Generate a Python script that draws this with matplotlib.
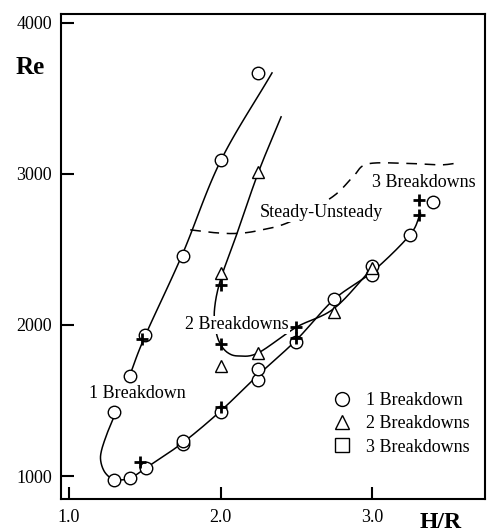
import numpy as np
import matplotlib
matplotlib.use("Agg")
import matplotlib.pyplot as plt
from matplotlib.lines import Line2D

plt.rcParams['font.family'] = ['Liberation Serif', 'DejaVu Serif']

# ---- measured points ----
one_bd_x = [1.30, 1.30, 1.40, 1.51, 1.75, 1.75, 2.00, 2.25, 2.25, 2.50, 2.75, 3.00, 3.00, 3.25, 3.40,
            1.40, 1.50, 1.75, 2.00, 2.25]
one_bd_y = [1425, 975, 985, 1055, 1210, 1232, 1426, 1635, 1706, 1889, 2170, 2331, 2390, 2596, 2816,
            1664, 1934, 2459, 3092, 3666]

two_bd_x = [2.25, 2.00, 2.00, 2.25, 2.75, 3.00]
two_bd_y = [3011, 2342, 1728, 1816, 2088, 2375]

three_bd_x = []
three_bd_y = []

cross_x = [1.47, 1.48, 2.00, 2.00, 2.00, 2.50, 2.50, 3.31, 3.31]
cross_y = [1095, 1905, 1459, 2265, 1872, 1988, 1913, 2827, 2728]

# ---- hand-fitted curves (guide points) ----
upper_one_x = [1.40, 1.50, 1.75, 2.00, 2.34]
upper_one_y = [1664, 1922, 2472, 3085, 3669]

two_curve_x = [2.40, 2.25, 2.11, 2.00, 1.96, 1.97, 2.00, 2.05, 2.12, 2.25, 2.50, 2.75, 3.00]
two_curve_y = [3378, 3011, 2609, 2300, 2100, 1960, 1872, 1815, 1795, 1816, 1985, 2110, 2375]

lower_one_x = [1.31, 1.26, 1.215, 1.21, 1.24, 1.30, 1.40, 1.51, 1.75, 2.00, 2.25, 2.50, 2.75, 3.00, 3.25, 3.32]
lower_one_y = [1425, 1305, 1172, 1095, 1020, 978, 985, 1055, 1220, 1430, 1670, 1900, 2170, 2350, 2596, 2740]

stab_x = [1.80, 1.95, 2.10, 2.25, 2.46, 2.74, 2.875, 2.97, 3.23, 3.45, 3.58]
stab_y = [2630, 2612, 2606, 2625, 2684, 2849, 2982, 3066, 3070, 3060, 3075]


def catmull_rom(xs, ys, n=24):
    p = np.column_stack([xs, ys]).astype(float)
    p = np.vstack([2 * p[0] - p[1], p, 2 * p[-1] - p[-2]])
    out = []
    t = np.linspace(0, 1, n, endpoint=False)[:, None]
    for i in range(1, len(p) - 2):
        p0, p1, p2, p3 = p[i - 1], p[i], p[i + 1], p[i + 2]
        seg = 0.5 * ((2 * p1) + (-p0 + p2) * t + (2 * p0 - 5 * p1 + 4 * p2 - p3) * t ** 2
                     + (-p0 + 3 * p1 - 3 * p2 + p3) * t ** 3)
        out.append(seg)
    out.append(p[-2][None, :])
    out = np.vstack(out)
    return out[:, 0], out[:, 1]


W, H = 488, 532
fig = plt.figure(figsize=(W / 100, H / 100), dpi=100)
ax = fig.add_axes([61 / W, 1 - 499 / H, (485 - 61) / W, (499 - 14) / H])

ax.set_xlim(0.947, 3.746)
ax.set_ylim(848, 4059)

lw = 1.1
for cx, cy in [(upper_one_x, upper_one_y), (two_curve_x, two_curve_y), (lower_one_x, lower_one_y)]:
    sx, sy = catmull_rom(cx, cy)
    ax.plot(sx, sy, color='black', lw=lw, zorder=2)

sx, sy = catmull_rom(stab_x, stab_y)
ax.plot(sx, sy, color='black', lw=1.1, dashes=(7, 5), zorder=2)

mk = dict(color='black', markerfacecolor='white', markeredgewidth=1.0, markersize=9, linestyle='none', zorder=3)
ax.plot(one_bd_x, one_bd_y, marker='o', **mk)
ax.plot(two_bd_x, two_bd_y, marker='^', **mk)
ax.plot(three_bd_x, three_bd_y, marker='s', **mk)
ax.plot(cross_x, cross_y, marker='+', color='black', markersize=9, markeredgewidth=2.0,
        linestyle='none', zorder=4)

tfs = 13
ax.text(1.45, 1549, '1 Breakdown', fontsize=tfs, ha='center', va='center', zorder=5)
ax.text(2.11, 2000, '2 Breakdowns', fontsize=tfs, ha='center', va='center', zorder=5,
        bbox=dict(facecolor='white', edgecolor='none', pad=0.5))
ax.text(2.665, 2745, 'Steady-Unsteady', fontsize=tfs, ha='center', va='center', zorder=5,
        bbox=dict(facecolor='white', edgecolor='none', pad=0.5))
ax.text(3.34, 2945, '3 Breakdowns', fontsize=tfs, ha='center', va='center', zorder=5,
        bbox=dict(facecolor='white', edgecolor='none', pad=0.5))

# axes styling
for s in ax.spines.values():
    s.set_linewidth(1.5)
ax.set_xticks([1.0, 2.0, 3.0])
ax.set_xticklabels(['1.0', '2.0', '3.0'])
ax.set_yticks([1000, 2000, 3000, 4000])
ax.set_yticklabels(['1000', '2000', '3000', '4000'])
ax.tick_params(direction='in', length=9, width=1.5, labelsize=tfs)
ax.tick_params(axis='y', pad=6.5)
ax.tick_params(axis='x', pad=7)

fig.text(16 / W, 1 - 68 / H, 'Re', fontsize=18, fontweight='bold', ha='left', va='center')
fig.text(441 / W, 1 - 528 / H, 'H/R', fontsize=17, fontweight='bold', ha='center', va='baseline')

handles = [
    Line2D([], [], marker='o', color='black', markerfacecolor='white', markersize=10, linestyle='none'),
    Line2D([], [], marker='^', color='black', markerfacecolor='white', markersize=10, linestyle='none'),
    Line2D([], [], marker='s', color='black', markerfacecolor='white', markersize=10, linestyle='none'),
]
ax.legend(handles, ['1 Breakdown', '2 Breakdowns', '3 Breakdowns'], loc='upper left',
          bbox_to_anchor=((333 - 61) / 424, (499 - 392) / 485), frameon=False, fontsize=tfs,
          handlelength=1.0, handletextpad=0.8, labelspacing=0.35, borderpad=0, borderaxespad=0)

fig.savefig('out.png', dpi=100)
